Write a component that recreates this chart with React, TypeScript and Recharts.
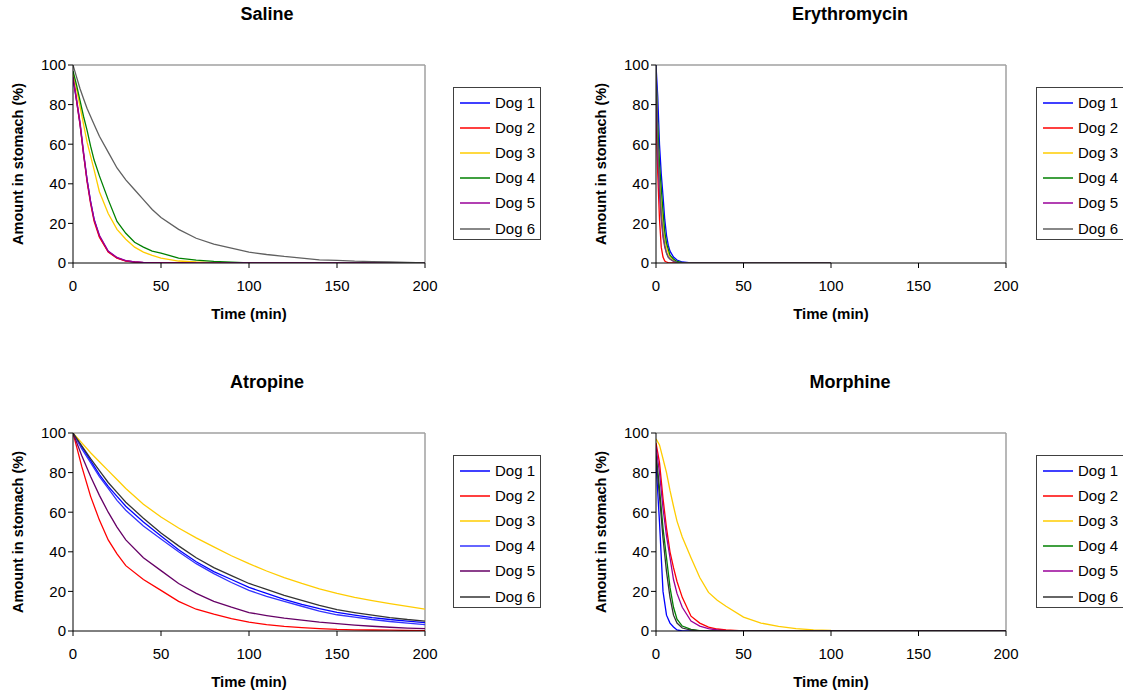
import { LineChart, Line, XAxis, YAxis, ReferenceLine, Label } from "recharts";

const FONT = "Arial, 'Liberation Sans', sans-serif";

const dogNames = ["Dog 1", "Dog 2", "Dog 3", "Dog 4", "Dog 5", "Dog 6"];
const xTicks = [0, 50, 100, 150, 200];
const yTicks = [0, 20, 40, 60, 80, 100];

// Saline
const salineTimes = [0, 2, 4, 6, 8, 10, 12, 15, 20, 25, 30, 35, 40, 45, 50, 60, 70, 80, 90, 100, 110, 120, 130, 140, 150, 160, 170, 180, 190, 200];
const salineDog1 = [93, 82, 70, 55, 42, 31, 22, 13.5, 5.8, 2.6, 1.1, 0.5, 0.2, 0, 0, 0, 0, 0, 0, 0, 0, 0, 0, 0, 0, 0, 0, 0, 0, 0];
const salineDog2 = [95, 82, 70, 55, 41, 30, 21, 13, 5.5, 2.5, 1, 0.5, 0.2, 0, 0, 0, 0, 0, 0, 0, 0, 0, 0, 0, 0, 0, 0, 0, 0, 0];
const salineDog3 = [96, 88, 79, 70, 61, 54, 47, 36, 25, 17, 12, 8, 5.5, 3.8, 2.5, 1, 0.5, 0.2, 0, 0, 0, 0, 0, 0, 0, 0, 0, 0, 0, 0];
const salineDog4 = [97, 90, 82, 74, 67, 59, 52, 44, 32, 21, 15, 10.5, 8, 6, 5, 2.5, 1.5, 0.8, 0.4, 0.1, 0, 0, 0, 0, 0, 0, 0, 0, 0, 0];
const salineDog5 = [94, 83, 71, 56, 42, 31, 22, 14, 6, 2.8, 1.2, 0.6, 0.3, 0.1, 0, 0, 0, 0, 0, 0, 0, 0, 0, 0, 0, 0, 0, 0, 0, 0];
const salineDog6 = [100, 94, 88, 83, 78, 74, 70, 64, 56, 48, 42, 37, 32, 27, 23, 17, 12.5, 9.5, 7.5, 5.5, 4.3, 3.3, 2.5, 1.6, 1.3, 0.9, 0.7, 0.5, 0.3, 0.1];

// Erythromycin
const eryTimes = [0, 1, 2, 3, 4, 5, 6, 7, 8, 10, 12, 15, 20, 30, 50, 100];
const eryDog1 = [100, 84, 60, 45, 34, 22, 14, 9, 6, 3, 1.5, 0.5, 0.1, 0, 0, 0];
const eryDog2 = [75, 45, 22, 8, 3, 1, 0.5, 0.2, 0, 0, 0, 0, 0, 0, 0, 0];
const eryDog3 = [95, 65, 45, 30, 20, 12, 8, 5, 3, 1.5, 0.5, 0.1, 0, 0, 0, 0];
const eryDog4 = [95, 70, 50, 38, 26, 16, 10, 7, 4, 2, 0.8, 0.2, 0, 0, 0, 0];
const eryDog5 = [90, 55, 35, 22, 13, 8, 5, 3, 2, 0.8, 0.3, 0, 0, 0, 0, 0];
const eryDog6 = [100, 60, 40, 25, 15, 9, 5, 3, 2, 1, 0.3, 0, 0, 0, 0, 0];

// Atropine
const atrTimes = [0, 5, 10, 15, 20, 25, 30, 40, 50, 60, 70, 80, 90, 100, 110, 120, 130, 140, 150, 160, 170, 180, 190, 200];
const atrDog1 = [100, 93, 86, 79, 73, 68, 63, 55, 48, 41, 35, 30, 26, 22, 19, 16, 13.5, 11.3, 9.4, 8, 6.8, 5.8, 5, 4.2];
const atrDog2 = [100, 83, 68, 56, 46, 39, 33, 26, 20.5, 15, 11, 8.5, 6.3, 4.5, 3.2, 2.3, 1.7, 1.2, 0.8, 0.6, 0.5, 0.4, 0.3, 0.2];
const atrDog3 = [100, 95, 90, 85.5, 81, 76.5, 72, 64, 57.6, 52, 47, 42.5, 38, 34, 30.3, 27, 24, 21.3, 19, 17, 15.3, 13.8, 12.4, 11];
const atrDog4 = [100, 92, 85, 78, 72, 66, 61, 53, 46.5, 40, 34, 29, 24.5, 20.5, 17.5, 15, 12.5, 10, 8.2, 7, 5.8, 4.8, 4, 3.2];
const atrDog5 = [100, 88.5, 78, 68.5, 60, 52.5, 46, 37, 30.5, 24, 19, 15, 12, 9.3, 7.8, 6.5, 5.5, 4.5, 3.7, 3, 2.4, 1.9, 1.5, 1.2];
const atrDog6 = [100, 93.5, 87, 81, 75, 70, 65, 57, 49.5, 43, 37, 32, 28, 24, 21, 18, 15.5, 13, 10.8, 9.3, 8, 6.8, 5.8, 5];

// Morphine
const morTimes = [0, 2, 4, 6, 8, 10, 12, 15, 20, 25, 30, 35, 40, 50, 60, 70, 80, 90, 100, 120, 150, 200];
const morDog1 = [85, 55, 20, 8, 4, 2, 0.5, 0, 0, 0, 0, 0, 0, 0, 0, 0, 0, 0, 0, 0, 0, 0];
const morDog2 = [95, 85, 67, 52, 40, 32, 25, 17, 7.5, 4, 2, 1, 0.5, 0.1, 0, 0, 0, 0, 0, 0, 0, 0];
const morDog3 = [97, 94, 87, 80, 71, 63, 55.5, 47.5, 37, 27, 19.5, 15.5, 12.5, 7, 4, 2.3, 1.2, 0.6, 0.3, 0.1, 0, 0];
const morDog4 = [90, 72, 52, 37, 22, 12, 6, 2.5, 0.8, 0.2, 0, 0, 0, 0, 0, 0, 0, 0, 0, 0, 0, 0];
const morDog5 = [93, 80, 62, 48, 37, 26, 19, 12, 5, 2.5, 1.2, 0.5, 0.2, 0, 0, 0, 0, 0, 0, 0, 0, 0];
const morDog6 = [88, 68, 47, 30, 17, 8, 4, 1.5, 0.5, 0, 0, 0, 0, 0, 0, 0, 0, 0, 0, 0, 0, 0];

const topColors = ["#0000FF", "#FF0000", "#FFCC00", "#008000", "#990099", "#606060"];
const atrColors = ["#0000FF", "#FF0000", "#FFCC00", "#3333FF", "#660066", "#333333"];
const morColors = ["#0000FF", "#FF0000", "#FFCC00", "#008000", "#990099", "#333333"];

const W = 560;
const H = 345;
const PLOT_LEFT = 73;
const PLOT_TOP = 65;
const PLOT_BOTTOM = 263;
const Y_AXIS_W = 60;
const X_AXIS_H = 40;

type PanelProps = {
  title: string
  times: number[]
  series: number[][]
  colors: string[]
  left: number
  top: number
  plotRight: number
}

function Panel({ title, times, series, colors, left, top, plotRight }: PanelProps) {
  const data = times.map((t, i) => {
    const row: any = { t };
    series.forEach((s, k) => { row["d" + k] = s[i]; });
    return row;
  });
  const cy = (PLOT_TOP + PLOT_BOTTOM) / 2;

  return (
    <div style={{ position: "absolute", left, top, width: W, height: H }}>
      <svg width={W} height={30} style={{ position: "absolute", left: 0, top: 0 }}>
        <text x={267} y={20} textAnchor="middle" fontFamily={FONT} fontSize={18} fontWeight="bold" fill="#000">
          {title}
        </text>
      </svg>
      <div style={{ position: "absolute", left: 0, top: 0 }}>
        <LineChart
          width={W}
          height={H}
          data={data}
          margin={{ top: PLOT_TOP, right: W - plotRight, bottom: H - PLOT_BOTTOM - X_AXIS_H, left: PLOT_LEFT - Y_AXIS_W }}
        >
          <ReferenceLine y={100} stroke="#a0a0a0" strokeWidth={1.5} />
          <ReferenceLine x={200} stroke="#a0a0a0" strokeWidth={1.5} />
          <XAxis
            dataKey="t"
            type="number"
            domain={[0, 200]}
            ticks={xTicks}
            allowDataOverflow
            height={X_AXIS_H}
            tickSize={5}
            tickMargin={12}
            stroke="#000"
            tick={{ fontSize: 15, fill: "#000", fontFamily: FONT }}
          >
            <Label
              value="Time (min)"
              position="bottom"
              offset={5}
              fill="#000"
              style={{ fontSize: 15, fontWeight: "bold", fontFamily: FONT, fill: "#000" }}
            />
          </XAxis>
          <YAxis
            type="number"
            domain={[0, 100]}
            ticks={yTicks}
            allowDataOverflow
            width={Y_AXIS_W}
            tickSize={5}
            tickMargin={2}
            stroke="#000"
            tick={{ fontSize: 15, fill: "#000", fontFamily: FONT }}
          >
            <Label
              content={() => (
                <text
                  x={18}
                  y={cy}
                  transform={`rotate(-90 18 ${cy})`}
                  textAnchor="middle"
                  dominantBaseline="central"
                  fontFamily={FONT}
                  fontSize={14.5}
                  fontWeight="bold"
                  fill="#000"
                >
                  Amount in stomach (%)
                </text>
              )}
            />
          </YAxis>
          {series.map((_, k) => (
            <Line
              key={k}
              dataKey={"d" + k}
              type="linear"
              stroke={colors[k]}
              strokeWidth={1.3}
              dot={false}
              activeDot={false}
              isAnimationActive={false}
            />
          ))}
        </LineChart>
      </div>
      <div
        style={{
          position: "absolute",
          left: 453,
          top: 87,
          width: 86,
          height: 151,
          border: "1px solid #404040",
          background: "#fff",
          fontFamily: FONT,
          fontSize: 15,
          color: "#000",
        }}
      >
        {dogNames.map((name, i) => (
          <div
            key={name}
            style={{ position: "absolute", left: 6, top: 14.5 + 25.2 * i - 9, height: 18, display: "flex", alignItems: "center" }}
          >
            <svg width={30} height={4} style={{ display: "block" }}>
              <line x1={0} y1={2} x2={30} y2={2} stroke={colors[i]} strokeWidth={1.5} />
            </svg>
            <span style={{ marginLeft: 5, whiteSpace: "nowrap", lineHeight: "18px" }}>{name}</span>
          </div>
        ))}
      </div>
    </div>
  );
}

export default function App() {
  return (
    <div style={{ position: "absolute", left: 0, top: 0, width: 1123, height: 695, background: "#fff", overflow: "hidden" }}>
      <Panel
        title="Saline"
        times={salineTimes}
        series={[salineDog1, salineDog2, salineDog3, salineDog4, salineDog5, salineDog6]}
        colors={topColors}
        left={0}
        top={0}
        plotRight={425}
      />
      <Panel
        title="Erythromycin"
        times={eryTimes}
        series={[eryDog1, eryDog2, eryDog3, eryDog4, eryDog5, eryDog6]}
        colors={topColors}
        left={583}
        top={0}
        plotRight={423}
      />
      <Panel
        title="Atropine"
        times={atrTimes}
        series={[atrDog1, atrDog2, atrDog3, atrDog4, atrDog5, atrDog6]}
        colors={atrColors}
        left={0}
        top={368}
        plotRight={425}
      />
      <Panel
        title="Morphine"
        times={morTimes}
        series={[morDog1, morDog2, morDog3, morDog4, morDog5, morDog6]}
        colors={morColors}
        left={583}
        top={368}
        plotRight={423}
      />
    </div>
  );
}
